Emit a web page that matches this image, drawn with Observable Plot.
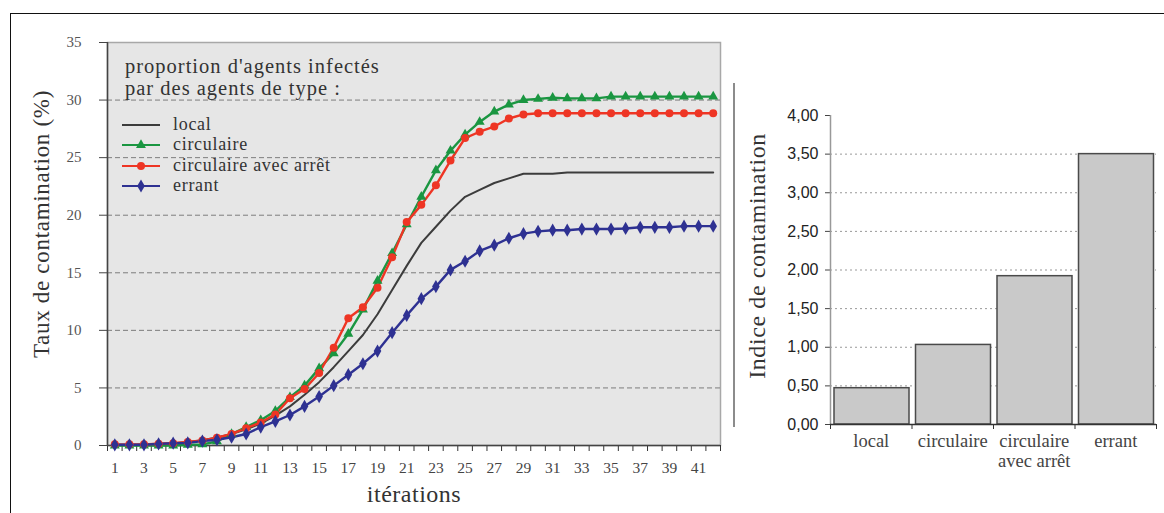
<!DOCTYPE html>
<html><head><meta charset="utf-8">
<script src="https://cdn.jsdelivr.net/npm/d3@7"></script>
<script src="https://cdn.jsdelivr.net/npm/@observablehq/plot@0.6"></script>
<style>
body{margin:0;background:#fff;}
#wrap{position:relative;width:1164px;height:513px;overflow:hidden;font-family:"Liberation Serif",serif;color:#333;}
.abs{position:absolute;white-space:nowrap;}
.rot{transform:translate(-50%,-50%) rotate(-90deg);}
.ctr{transform:translate(-50%,-50%);}
svg{overflow:visible;}
</style></head><body><div id="wrap"></div>
<script>
// ---------- data ----------
const iterations = d3.range(1, 43);
const seriesNames = ["local", "circulaire", "circulaire avec arrêt", "errant"];
const local = [0.05,0.05,0.1,0.15,0.2,0.3,0.45,0.7,1.0,1.4,1.9,2.6,3.4,4.4,5.5,6.8,8.2,9.6,11.4,13.5,15.6,17.6,19.0,20.4,21.6,22.2,22.8,23.2,23.6,23.6,23.6,23.7,23.7,23.7,23.7,23.7,23.7,23.7,23.7,23.7,23.7,23.7];
const circulaire = [0,0,0,0,0,0.05,0.1,0.35,1.0,1.6,2.2,3.0,4.2,5.2,6.7,8.0,9.7,11.8,14.3,16.7,19.2,21.6,23.9,25.6,27.0,28.1,29.0,29.6,30.0,30.1,30.2,30.15,30.15,30.15,30.3,30.3,30.3,30.3,30.3,30.3,30.3,30.3];
const circulaireArret = [0.1,0.1,0.1,0.15,0.2,0.3,0.43,0.67,1.0,1.5,2.0,2.7,4.1,4.9,6.3,8.5,11.05,12.0,13.7,16.35,19.4,20.9,22.6,24.75,26.7,27.25,27.7,28.4,28.75,28.85,28.85,28.85,28.85,28.85,28.85,28.85,28.85,28.85,28.85,28.85,28.85,28.85];
const errant = [0.06,0.06,0.06,0.14,0.2,0.23,0.38,0.5,0.72,1.0,1.6,2.1,2.65,3.4,4.25,5.2,6.15,7.1,8.2,9.8,11.3,12.75,13.8,15.25,16.0,16.9,17.4,18.0,18.4,18.6,18.7,18.7,18.8,18.8,18.8,18.85,18.95,18.95,18.95,19.05,19.05,19.05];
const yTicksLeft = [0,5,10,15,20,25,30,35];
const xLabelTicks = d3.range(1, 42, 2);

const barCategories = ["local", "circulaire", "circulaire\navec arrêt", "errant"];
const barValues = [0.47, 1.03, 1.92, 3.5];
const yTicksRight = [0,0.5,1,1.5,2,2.5,3,3.5,4];

const colors = {"local":"#3c3c3c","circulaire":"#1a9641","circulaire avec arrêt":"#ee3524","errant":"#2e3192"};
const symbols = {"circulaire":"triangle","circulaire avec arrêt":"circle","errant":"diamond"};
const radii = {"circulaire":3.7,"circulaire avec arrêt":4,"errant":4};

const seriesValues = [local, circulaire, circulaireArret, errant];
const rows = seriesNames.flatMap((s, k) => seriesValues[k].map((v, i) => ({it: iterations[i], v, s})));

const wrap = document.getElementById("wrap");

// ---------- left chart ----------
const lineMarks = seriesNames.map(s => Plot.line(rows.filter(d => d.s === s), {x:"it", y:"v", stroke: colors[s], strokeWidth: s === "local" ? 2 : 2.4}));
const dotMarks = seriesNames.filter(s => symbols[s]).map(s => Plot.dot(rows.filter(d => d.s === s), {x:"it", y:"v", symbol: symbols[s], r: radii[s], fill: colors[s], stroke: "none"}));

const left = Plot.plot({
  width: 730, height: 513,
  marginLeft: 107, marginRight: 10, marginTop: 42, marginBottom: 68,
  style: {fontFamily: "Liberation Serif, serif", background: "transparent", color: "#333"},
  x: {domain: [0.5, 42.5]},
  y: {domain: [0, 35]},
  marks: [
    Plot.frame({fill: "#e6e6e6", stroke: "#a8a8a8", strokeWidth: 1.5}),
    Plot.ruleY(yTicksLeft.filter(t => t > 0 && t < 35), {y: d => d, stroke: "#7d7d7d", strokeDasharray: "5,3", strokeWidth: 1}),
    Plot.axisY({ticks: yTicksLeft, tickSize: 8, tickPadding: 18, fontSize: 15, fill: "#555", stroke: "#444", label: null}),
    Plot.axisX({ticks: d3.range(0.5, 43, 1), tickSize: 6, tickFormat: () => "", stroke: "#333", label: null}),
    Plot.axisX({ticks: xLabelTicks, tickSize: 0, tickPadding: 16, fontSize: 15.5, fill: "#444", label: null}),
    Plot.ruleX([0.5], {stroke: "#444", strokeWidth: 1.5}),
    Plot.ruleY([0], {stroke: "#444", strokeWidth: 1.5}),
    ...lineMarks,
    ...dotMarks
  ]
});
left.style.position = "absolute"; left.style.left = "0px"; left.style.top = "0px";
wrap.appendChild(left);

// ---------- right chart ----------
const bars = barCategories.map((c, i) => ({i, c, v: barValues[i]}));
const right = Plot.plot({
  width: 434, height: 513,
  marginLeft: 100, marginRight: 8, marginTop: 115, marginBottom: 89,
  style: {fontFamily: "Liberation Serif, serif", background: "transparent", color: "#333"},
  x: {domain: [0, 4]},
  y: {domain: [0, 4]},
  marks: [
    Plot.ruleY(yTicksRight.filter(t => t > 0 && t < 4), {y: d => d, stroke: "#999", strokeDasharray: "2,3", strokeWidth: 1}),
    Plot.rectY(bars, {x1: d => d.i, x2: d => d.i + 1, y: "v", insetLeft: 4, insetRight: 2.5, fill: "#c9c9c9", stroke: "#4a4a4a", strokeWidth: 1.5}),
    Plot.axisY({ticks: yTicksRight, tickSize: 5, tickPadding: 7, fontSize: 16, fontFamily: "Liberation Sans, Arial, sans-serif", fill: "#222", stroke: "#444", tickFormat: d => d.toFixed(2).replace(".", ","), label: null}),
    Plot.ruleX([0], {stroke: "#999", strokeWidth: 1.5}),
    Plot.axisX({ticks: [0,1,2,3,4], tickSize: 5, tickFormat: () => "", stroke: "#333", label: null}),
    Plot.axisX({ticks: [0.5,1.5,2.5,3.5], tickSize: 0, tickPadding: 9, fontSize: 18.5, lineHeight: 1.05, fill: "#444", tickFormat: d => barCategories[Math.floor(d)], label: null}),
    Plot.ruleY([0], {stroke: "#333", strokeWidth: 1.5})
  ]
});
right.style.position = "absolute"; right.style.left = "730px"; right.style.top = "0px";
wrap.appendChild(right);

// ---------- decorations, titles and legend ----------
function addDiv(html, css, cls) {
  const d = document.createElement("div");
  d.className = "abs " + (cls || "");
  d.innerHTML = html;
  Object.assign(d.style, css);
  wrap.appendChild(d);
  return d;
}
addDiv("", {left: "10px", top: "12.5px", width: "1154px", height: "0", borderTop: "1.5px solid #111"});
addDiv("", {left: "9.5px", top: "13px", width: "0", height: "500px", borderLeft: "1.5px solid #111"});
addDiv("", {left: "733px", top: "83px", width: "2px", height: "344px", background: "#8c8c8c"});

addDiv("Taux de contamination (%)", {left: "42px", top: "224px", fontSize: "23px", letterSpacing: "0.7px", color: "#333"}, "rot");
addDiv("itérations", {left: "414px", top: "494px", fontSize: "24px", letterSpacing: "0.5px", color: "#333"}, "ctr");
addDiv("Indice de contamination", {left: "757px", top: "256px", fontSize: "24px", letterSpacing: "0.6px", color: "#333"}, "rot");

addDiv("proportion d'agents infectés<br>par des agents de type :", {left: "125px", top: "55px", fontSize: "20.5px", letterSpacing: "1px", lineHeight: "22px", color: "#333"});

seriesNames.forEach((s, k) => {
  const y = 124.5 + k * 20.5;
  const sym = symbols[s] ? d3.symbol(s === "circulaire" ? d3.symbolTriangle : s === "errant" ? d3.symbolDiamond : d3.symbolCircle, Math.PI * radii[s] * radii[s])() : "";
  const svg = `<svg width="44" height="14" style="position:absolute;left:0;top:0"><line x1="2" x2="40" y1="7" y2="7" stroke="${colors[s]}" stroke-width="2.2"/>${sym ? `<path d="${sym}" transform="translate(21,7)" fill="${colors[s]}"/>` : ""}</svg>`;
  addDiv(svg, {left: "120px", top: (y - 7) + "px", width: "44px", height: "14px"});
  addDiv(s, {left: "173px", top: (y - 12) + "px", fontSize: "18px", letterSpacing: "0.7px", lineHeight: "22px", color: "#333"});
});
</script>
</body></html>
